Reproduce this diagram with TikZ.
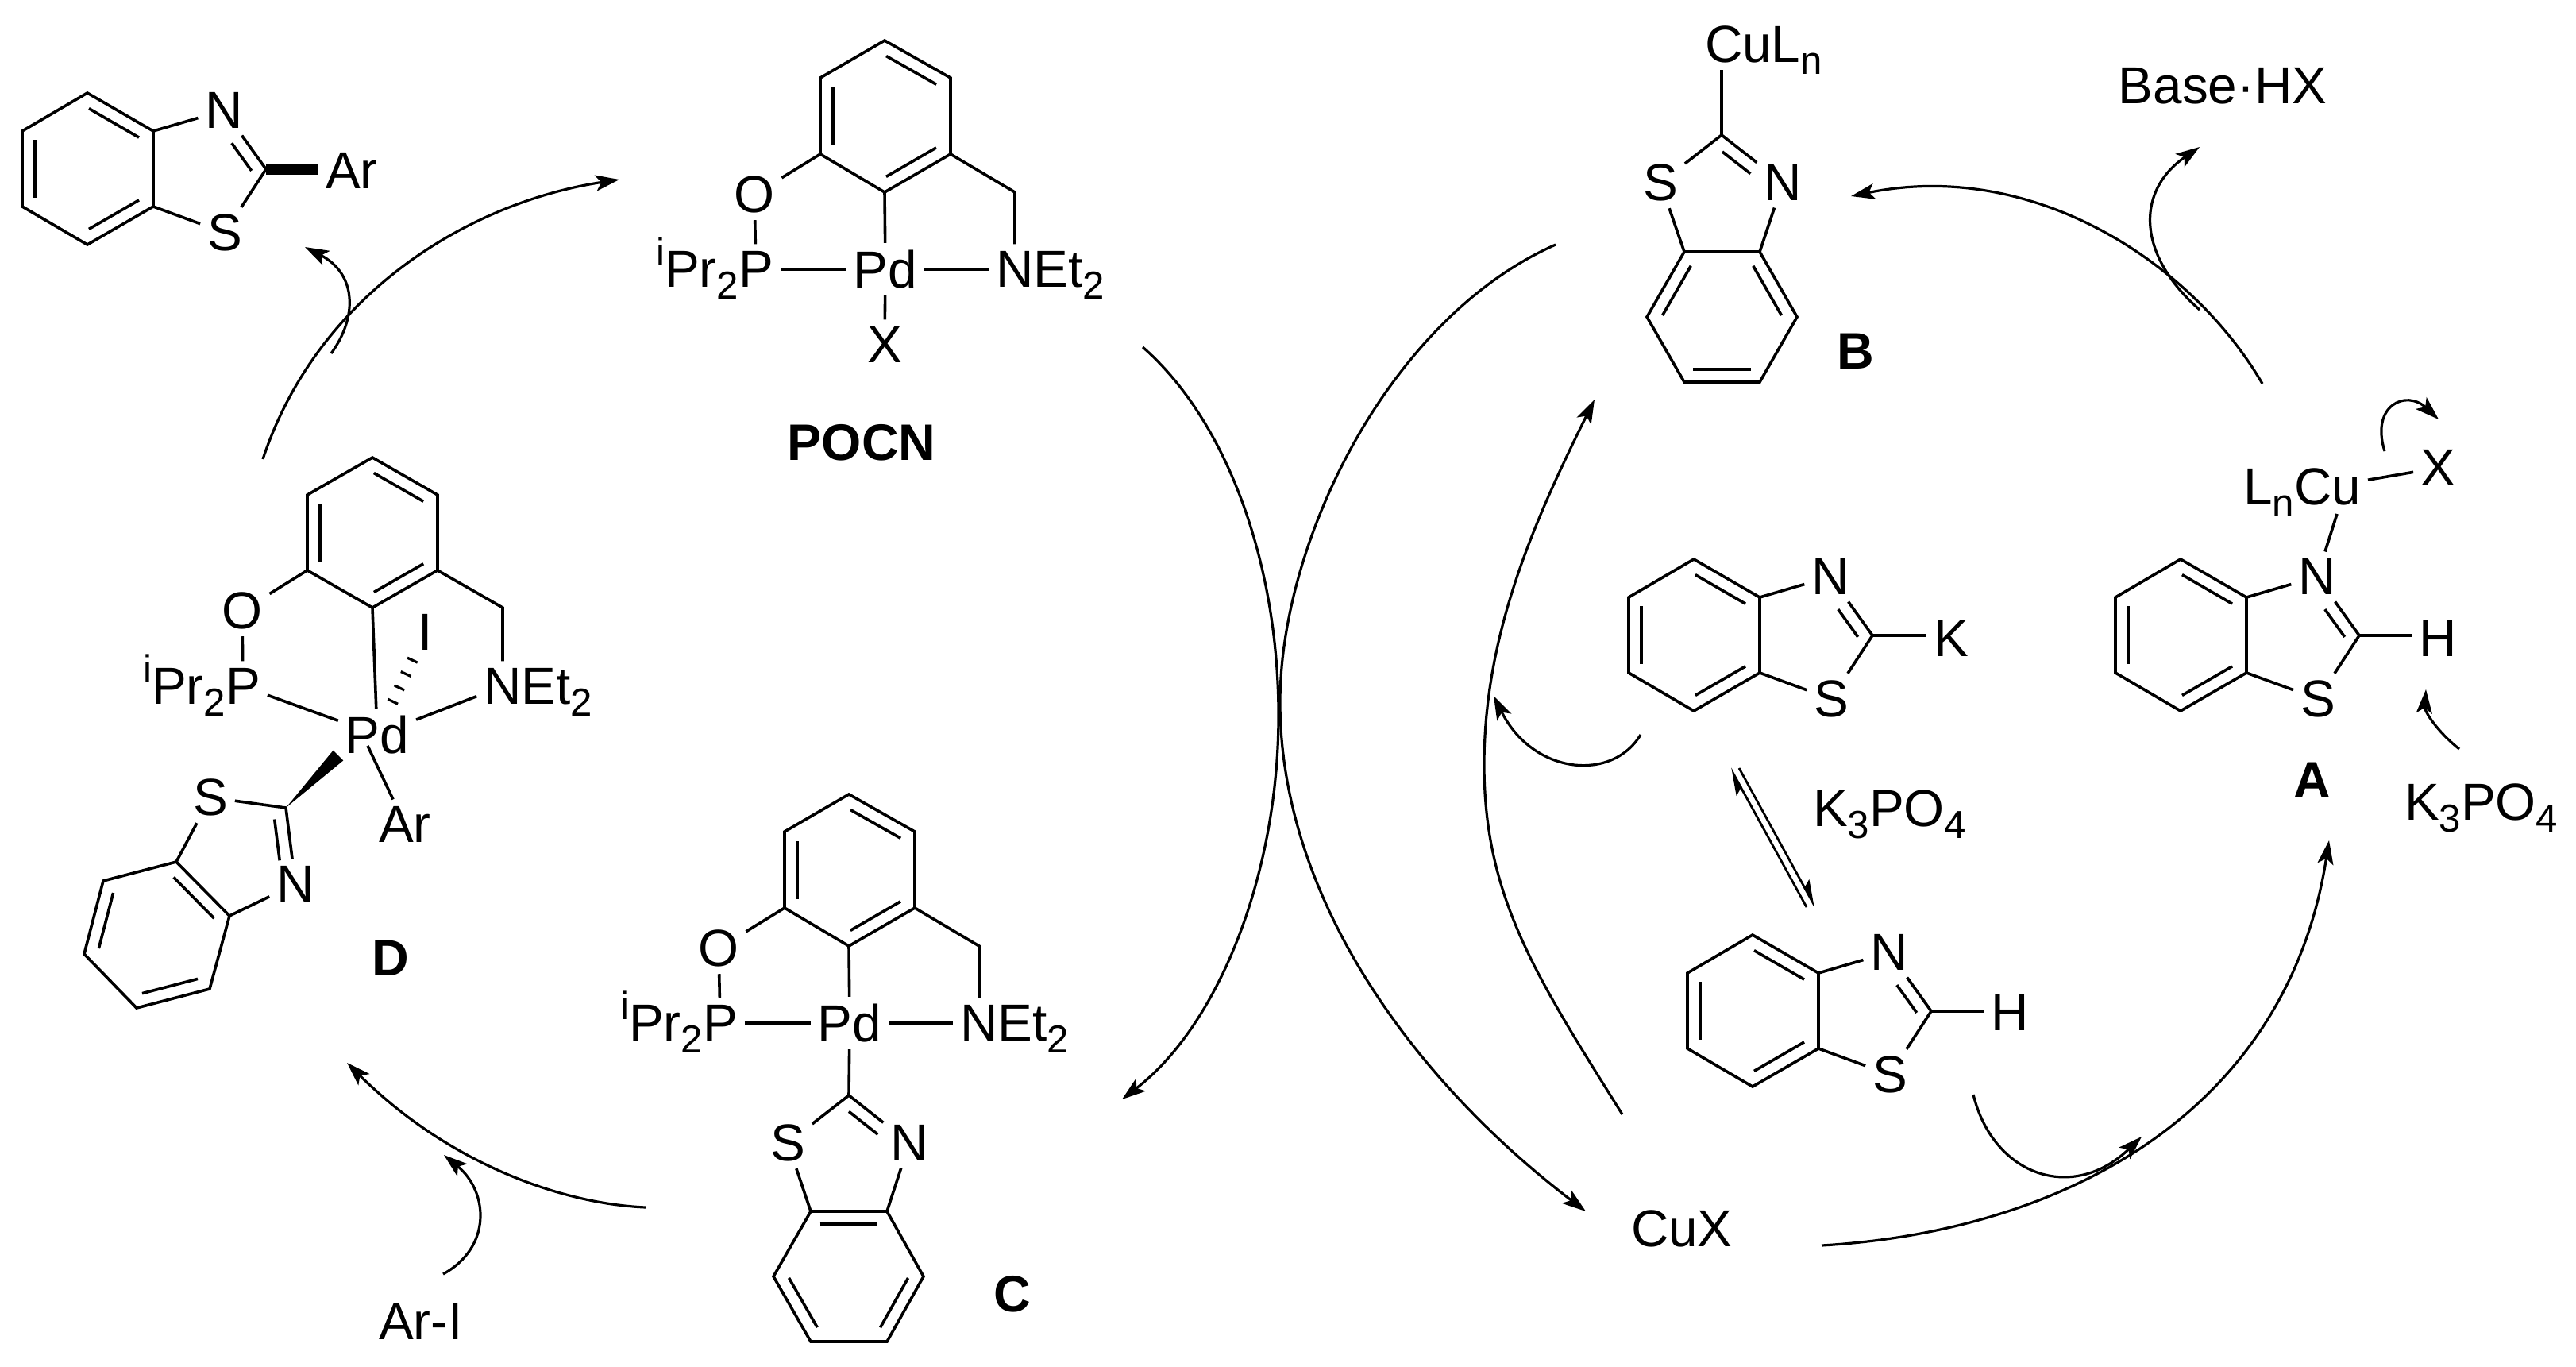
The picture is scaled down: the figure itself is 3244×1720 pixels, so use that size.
\documentclass[tikz,border=0pt]{standalone}
\usepackage{fontspec}
\setmainfont{Liberation Sans}
\usetikzlibrary{calc,arrows.meta}
\newcommand\sbs[1]{\raisebox{-7.5pt}{\fontsize{24.6}{25}\selectfont #1}}
\newcommand\spr[1]{\raisebox{13.5pt}{\fontsize{24.6}{25}\selectfont #1}}
\tikzset{
  x=0.5pt,y=-0.5pt,
  bond/.style={line width=1.8pt},
  atom/.style={inner sep=4.5pt,outer sep=0pt,font=\fontsize{32.8}{33}\selectfont},
  tag/.style={inner sep=0pt,outer sep=0pt,font=\fontsize{32.8}{33}\selectfont},
  ident/.style={inner sep=0pt,outer sep=0pt,anchor=base,font=\fontsize{32.3}{33}\selectfont\bfseries},
  arrow/.style={line width=1.6pt,-{Stealth[length=15pt,width=10pt,inset=3.5pt]}},
  harp/.style={line width=1.4pt,-{Stealth[length=15pt,width=10pt,inset=3pt,harpoon]}},
  heavy/.style={line width=6.5pt},
  hash/.style={line width=7pt,dash pattern=on 1.6pt off 8pt,shorten <=4pt},
}
\newcommand\dbl[4]{\draw[bond] ($(#1)!#3!(#2)!-8pt!90:(#2)$) -- ($(#2)!#4!(#1)!8pt!90:(#1)$);}
\newcommand\benz[6]{%
  \coordinate (r1) at (#1);\coordinate (r2) at (#2);\coordinate (r3) at (#3);
  \coordinate (r4) at (#4);\coordinate (r5) at (#5);\coordinate (r6) at (#6);
  \draw[bond] (r1)--(r2)--(r3)--(r4)--(r5)--(r6)--cycle;
  \dbl{r1}{r2}{.12}{.12}\dbl{r3}{r4}{.12}{.12}\dbl{r5}{r6}{.12}{.12}}
\newcommand\bzt{%
  \benz{110,117}{193,165}{193,260}{110,308}{28,260}{28,165}
  \node[atom] (N) at (282,139) {N};
  \node[atom] (S) at (283,293) {S};
  \coordinate (C2) at (335,213);
  \draw[bond] (r2)--(N);
  \draw[bond] (N)--(C2)--(S)--(r3);
  \dbl{N}{C2}{.43}{.1}}
\newcommand\pincer{%
  \benz{1114,51}{1197,98}{1197,194}{1114,242}{1033,194}{1033,98}
  \node[atom] (O) at (950,245) {O};
  \node[atom] (P) at (952,339) {P};
  \node[atom] (Pd) at (1115,339) {Pd};
  \node[atom] (N) at (1278,339) {N};
  \node[tag,anchor=base west,xshift=-4.5pt] (Et) at (N.base east) {Et\sbs{2}};
  \node[tag,anchor=base east,xshift=4.5pt] (iPr) at (P.base west) {\spr{i}Pr\sbs{2}};
  \coordinate (CH) at (1278,242);
  \draw[bond] (r5)--(O);
  \draw[bond] (O)--(P);
  \draw[bond] (P)--(Pd);
  \draw[bond] (Pd)--(N);
  \draw[bond] (r4)--(Pd);
  \draw[bond] (r3)--(CH)--(N);}
\newcommand\arw[5]{\coordinate (#1s) at (#2);\coordinate (#1e) at (#5);
  \draw[arrow] (#1s) .. controls (#3) and (#4) .. (#1e);}
\newcommand\arwtwo[8]{\coordinate (#1s) at (#2);\coordinate (#1m) at (#5);\coordinate (#1e) at (#8);
  \draw[arrow] (#1s) .. controls (#3) and (#4) .. (#1m) .. controls (#6) and (#7) .. (#1e);}
\begin{document}
\begin{tikzpicture}
\path[fill=white,use as bounding box] (0,0) rectangle (3244,1720);

% product, top left
\begin{scope}[name prefix=t-]
  \bzt
  \node[atom] (Ar) at (443,215) {Ar};
  \draw[heavy] (C2)--(Ar.west |- C2);
\end{scope}

% POCN
\begin{scope}[name prefix=p-]
  \pincer
  \node[atom] (X) at (1114,434) {X};
  \draw[bond] (Pd)--(X);
  \node[ident] (lab) at (1085,579) {POCN};
\end{scope}

% C
\begin{scope}[name prefix=c-,shift={(-45,949)}]
  \pincer
  \coordinate (C2) at (1114,430);
  \node[atom] (S) at (1037,490) {S};
  \node[atom] (Nt) at (1190,490) {N};
  \benz{1066,576}{1162,576}{1208,658}{1162,740}{1066,740}{1019,658}
  \draw[bond] (Pd)--(C2);
  \draw[bond] (r1)--(S)--(C2)--(Nt)--(r2);
  \dbl{C2}{Nt}{.13}{.39}
  \node[ident] (lab) at (1320,702) {C};
\end{scope}

% D
\begin{scope}[name prefix=d-]
  \benz{469,576}{551,623}{551,718}{469,765}{387,718}{387,623}
  \node[atom] (O) at (305,769) {O};
  \node[atom] (P) at (306,864) {P};
  \node[atom] (Pd) at (475,925) {Pd};
  \node[atom] (N) at (633,864) {N};
  \node[atom] (I) at (536,796) {I};
  \node[atom] (Ar) at (510,1038) {Ar};
  \node[tag,anchor=base west,xshift=-4.5pt] (Et) at (N.base east) {Et\sbs{2}};
  \node[tag,anchor=base east,xshift=4.5pt] (iPr) at (P.base west) {\spr{i}Pr\sbs{2}};
  \coordinate (CH) at (633,765);
  \coordinate (Pl) at (463,939);
  \coordinate (We) at (426,951);
  \draw[bond] (r5)--(O);
  \draw[bond] (O)--(P);
  \draw[bond] (P)--(Pd);
  \draw[bond] (Pd)--(N);
  \draw[bond] (r4)--(Pd);
  \draw[bond] (r3)--(CH)--(N);
  \draw[bond] (Pl)--(Ar);
  \draw[hash] (Pd)--(I);
  \node[atom] (S) at (265,1004) {S};
  \node[atom] (Nt) at (372,1113) {N};
  \coordinate (C2) at (360,1017);
  \benz{222,1085}{289,1153}{264,1245}{172,1269}{106,1201}{130,1109}
  \draw[bond] (r1)--(S)--(C2)--(Nt)--(r2);
  \dbl{C2}{Nt}{.13}{.33}
  \fill (C2) -- ($(We)!4.5pt!90:(C2)$) -- ($(We)!4.5pt!-90:(C2)$) -- cycle;
  \node[ident] (lab) at (492,1228) {D};
\end{scope}

% B
\begin{scope}[name prefix=b-]
  \node[tag,anchor=base west] (Cu) at (2147,78) {CuL\sbs{n}};
  \coordinate (Ct) at (2168,88);
  \coordinate (C2) at (2168,170);
  \node[atom] (S) at (2091,230) {S};
  \node[atom] (N) at (2245,230) {N};
  \benz{2216,317}{2263,399}{2216,481}{2121,481}{2074,399}{2121,317}
  \draw[bond] (C2)--(Ct);
  \draw[bond] (r6)--(S)--(C2)--(N)--(r1);
  \dbl{C2}{N}{.14}{.4}
  \node[ident] (lab) at (2337,464) {B};
\end{scope}

% K compound
\begin{scope}[name prefix=k-,shift={(2023,587)}]
  \bzt
  \node[atom] (K) at (434,217) {K};
  \draw[bond] (C2)--(K.west |- C2);
\end{scope}

% A
\begin{scope}[name prefix=a-,shift={(2636,587)}]
  \bzt
  \node[atom] (H) at (434,217) {H};
  \draw[bond] (C2)--(H.west |- C2);
\end{scope}
\node[atom] (Cu) at (2931,613) {Cu};
\node[tag,anchor=base east,xshift=4.5pt] (Ln) at (Cu.base west) {L\sbs{n}};
\node[atom] (X) at (3070,589) {X};
\coordinate (CuN) at (2943,647);
\draw[bond] (a-N)--(CuN);
\draw[bond] (Cu)--(X);
\node[ident] (labA) at (2912,1004) {A};

% H compound
\begin{scope}[name prefix=h-,shift={(2097,1060)}]
  \bzt
  \node[atom] (H) at (434,215) {H};
  \draw[bond] (C2)--(H.west |- C2);
\end{scope}

% free labels
\node[tag,anchor=base] (base) at (2799,130) {Base·HX};
\node[tag,anchor=base west] (k1) at (2283,1040) {K\sbs{3}PO\sbs{4}};
\node[tag,anchor=base west] (k2) at (3028,1032) {K\sbs{3}PO\sbs{4}};
\node[tag,anchor=base west] (cux) at (2054,1569) {CuX};
\node[tag,anchor=base west] (ari) at (477,1686) {Ar-I};

% arrows, left cycle
\arw{q1}{331,578}{400,370}{590,255}{780,226}
\arw{q2}{417,445}{450,400}{450,345}{384,311}
\arwtwo{q3}{1439,437}{1540,525}{1610,700}{1610,901}{1610,1100}{1535,1290}{1413,1384}
\arw{q4}{813,1520}{700,1515}{560,1460}{437,1338}
\arw{q5}{558,1604}{620,1570}{615,1500}{559,1454}

% arrows, right cycle
\arwtwo{w1}{1959,308}{1750,400}{1612,680}{1612,884}{1612,1130}{1780,1360}{1997,1525}
\arwtwo{w2}{2043,1403}{1935,1230}{1869,1130}{1869,963}{1869,800}{1930,660}{2008,503}
\arw{w3}{2066,925}{2030,985}{1930,975}{1881,876}
\arw{w4}{2294,1568}{2600,1550}{2880,1400}{2933,1058}
\arw{w5}{2485,1378}{2510,1480}{2610,1515}{2697,1431}
\arw{w6}{2849,483}{2760,330}{2560,200}{2331,247}
\arw{w7}{2770,390}{2690,320}{2690,240}{2770,185}
\arw{w8}{3003,568}{2985,510}{3030,490}{3071,528}
\arw{w9}{3097,943}{3068,920}{3053,895}{3055,868}

% equilibrium
\coordinate (e1s) at (2275,1142);\coordinate (e1e) at (2179,967);
\coordinate (e2s) at (2190,967);\coordinate (e2e) at (2286,1142);
\draw[harp] (e1s)--(e1e);
\draw[harp] (e2s)--(e2e);
\end{tikzpicture}
\end{document}
